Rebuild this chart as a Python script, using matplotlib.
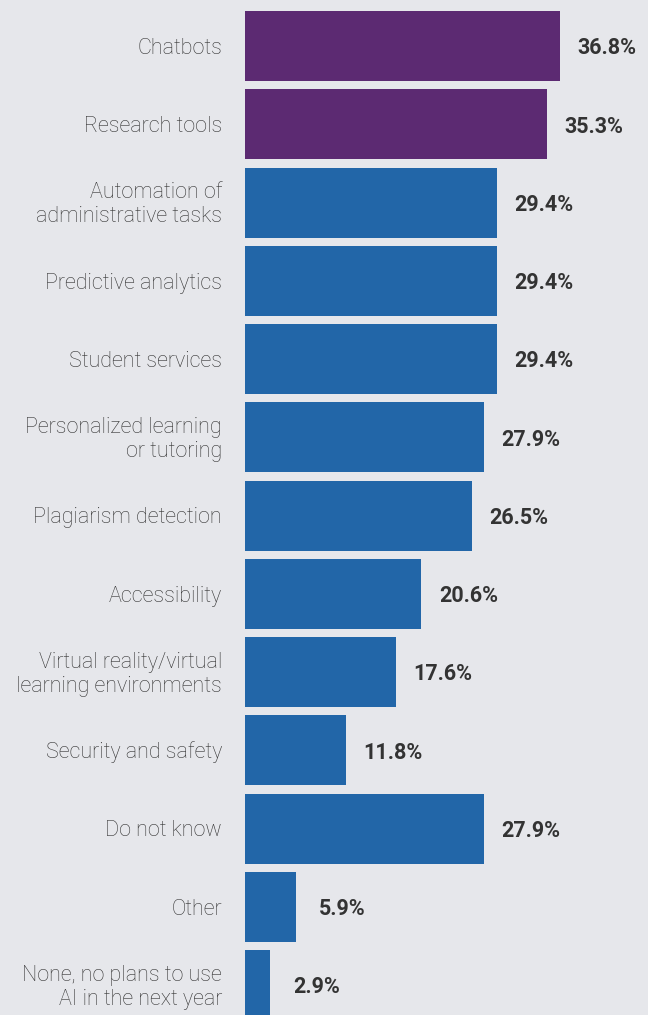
import matplotlib
matplotlib.use('Agg')
import matplotlib.pyplot as plt

# survey answers, top to bottom
categories = [
    'Chatbots',
    'Research tools',
    'Automation of\nadministrative tasks',
    'Predictive analytics',
    'Student services',
    'Personalized learning\nor tutoring',
    'Plagiarism detection',
    'Accessibility',
    'Virtual reality/virtual\nlearning environments',
    'Security and safety',
    'Do not know',
    'Other',
    'None, no plans to use\nAI in the next year',
]
values = [36.8, 35.3, 29.4, 29.4, 29.4, 27.9, 26.5, 20.6, 17.6, 11.8, 27.9, 5.9, 2.9]
highlight = [True, True] + [False] * 11

bg = '#e6e7eb'
purple = '#5c2a72'
blue = '#2266a8'

plt.rcParams['font.family'] = ['Roboto', 'DejaVu Sans']

fig = plt.figure(figsize=(6.48, 10.15), dpi=100, facecolor=bg)
ax = fig.add_axes([245 / 648, 0, 403 / 648, 1])
ax.set_facecolor(bg)

ypos = list(range(len(categories)))
colors = [purple if h else blue for h in highlight]
ax.barh(ypos, values, height=70 / 78.25, color=colors, edgecolor='none')

ax.set_xlim(0, 403 / 8.56)
ax.set_ylim((1015 - 46) / 78.25, -46 / 78.25)

for y, v, name in zip(ypos, values, categories):
    ax.text(v + 5.5, y + 0.03, '%.1f%%' % v, ha='center', va='center',
            fontsize=15.5, fontweight='bold', color='#333333')
    ax.text(-23 / 8.56, y + 0.03, name, ha='right', va='center',
            fontsize=15.5, fontweight='light', color='#333333',
            linespacing=1.2, clip_on=False)

ax.set_xticks([])
ax.set_yticks([])
for s in ax.spines.values():
    s.set_visible(False)

plt.savefig('out.png', dpi=100, facecolor=bg)
